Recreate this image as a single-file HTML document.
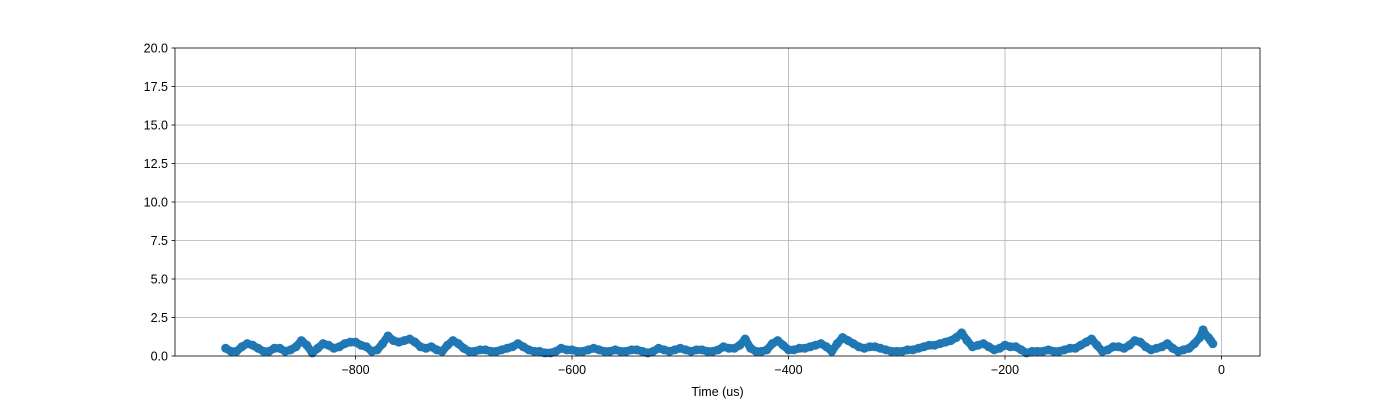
<!DOCTYPE html>
<html><head><meta charset="utf-8"><style>
body{margin:0;background:#fff;}
svg{display:block;font-family:"Liberation Sans","DejaVu Sans",sans-serif;}
</style></head><body>
<svg id="chart" width="1400" height="400" viewBox="0 0 1400 400">
<rect x="0" y="0" width="1400" height="400" fill="#fff"/>
<g id="grid"></g><g id="series"></g><g id="axes"></g>
</svg>
<script>
const times=[-920,-915,-910,-905,-900,-895,-890,-885,-880,-875,-870,-865,-860,-855,-850,-845,-840,-835,-830,-825,-820,-815,-810,-805,-800,-795,-790,-785,-780,-775,-770,-765,-760,-755,-750,-745,-740,-735,-730,-725,-720,-715,-710,-705,-700,-695,-690,-685,-680,-675,-670,-665,-660,-655,-650,-645,-640,-635,-630,-625,-620,-615,-610,-605,-600,-595,-590,-585,-580,-575,-570,-565,-560,-555,-550,-545,-540,-535,-530,-525,-520,-515,-510,-505,-500,-495,-490,-485,-480,-475,-470,-465,-460,-455,-450,-445,-440,-435,-430,-425,-420,-415,-410,-405,-400,-395,-390,-385,-380,-375,-370,-365,-360,-355,-350,-345,-340,-335,-330,-325,-320,-315,-310,-305,-300,-295,-290,-285,-280,-275,-270,-265,-260,-255,-250,-245,-240,-235,-230,-225,-220,-215,-210,-205,-200,-195,-190,-185,-180,-175,-170,-165,-160,-155,-150,-145,-140,-135,-130,-125,-120,-115,-110,-105,-100,-95,-90,-85,-80,-75,-70,-65,-60,-55,-50,-45,-40,-35,-30,-25,-20,-17,-15,-12,-10,-8];
const values=[0.5,0.3,0.3,0.6,0.8,0.7,0.5,0.3,0.3,0.5,0.5,0.3,0.4,0.6,1.0,0.7,0.2,0.5,0.8,0.7,0.5,0.6,0.8,0.9,0.9,0.7,0.6,0.3,0.4,0.8,1.3,1.0,0.9,1.0,1.1,0.9,0.6,0.5,0.6,0.4,0.3,0.7,1.0,0.8,0.5,0.3,0.3,0.4,0.4,0.3,0.3,0.4,0.5,0.6,0.8,0.6,0.4,0.3,0.3,0.2,0.2,0.3,0.5,0.4,0.4,0.3,0.3,0.4,0.5,0.4,0.3,0.3,0.4,0.3,0.3,0.4,0.4,0.3,0.2,0.3,0.5,0.4,0.3,0.4,0.5,0.4,0.3,0.4,0.4,0.3,0.3,0.4,0.6,0.5,0.5,0.7,1.1,0.5,0.3,0.3,0.4,0.8,1.0,0.7,0.4,0.4,0.5,0.5,0.6,0.7,0.8,0.6,0.3,0.8,1.2,1.0,0.8,0.6,0.5,0.6,0.6,0.5,0.4,0.3,0.3,0.3,0.4,0.4,0.5,0.6,0.7,0.7,0.8,0.9,1.0,1.2,1.5,1.0,0.6,0.7,0.8,0.6,0.4,0.5,0.7,0.6,0.6,0.4,0.2,0.3,0.3,0.3,0.4,0.3,0.3,0.4,0.5,0.5,0.7,0.9,1.1,0.7,0.3,0.4,0.6,0.6,0.5,0.7,1.0,0.9,0.6,0.4,0.5,0.6,0.8,0.5,0.3,0.4,0.5,0.8,1.2,1.7,1.4,1.2,1.0,0.8];
const xTicks=[-800,-600,-400,-200,0];
const xTickLabels=["\u2212800","\u2212600","\u2212400","\u2212200","0"];
const yTicks=[0,2.5,5,7.5,10,12.5,15,17.5,20];
const yTickLabels=["0.0","2.5","5.0","7.5","10.0","12.5","15.0","17.5","20.0"];
const L=175,R=1260,T=48,B=356;
const xMin=-966.8,xMax=35.6,yMin=0,yMax=20;
const sx=v=>L+(v-xMin)/(xMax-xMin)*(R-L);
const sy=v=>B-(v-yMin)/(yMax-yMin)*(B-T);
const NS="http://www.w3.org/2000/svg";
function mk(parent,tag,attrs){const e=document.createElementNS(NS,tag);for(const k in attrs)e.setAttribute(k,attrs[k]);document.getElementById(parent).appendChild(e);return e;}
xTicks.forEach((t,i)=>{
  const g=mk('grid','line',{x1:sx(t),x2:sx(t),y1:T,y2:B,stroke:'#b0b0b0','stroke-width':0.8});
  
  
  const tk=mk('axes','line',{x1:sx(t),x2:sx(t),y1:B,y2:B+3.5,stroke:'#000','stroke-width':0.8});
  
  
  const tx=mk('axes','text',{x:sx(t),y:B+18,'text-anchor':'middle','font-size':12.5,fill:'#000'});
  tx.textContent=xTickLabels[i];
  
  
});
yTicks.forEach((t,i)=>{
  if(t>0&&t<20){const g=mk('grid','line',{x1:L,x2:R,y1:sy(t),y2:sy(t),stroke:'#b0b0b0','stroke-width':0.8});
  
  }
  const tk=mk('axes','line',{x1:L-3.5,x2:L,y1:sy(t),y2:sy(t),stroke:'#000','stroke-width':0.8});
  
  
  const tx=mk('axes','text',{x:L-7,y:sy(t)+4.5,'text-anchor':'end','font-size':12.5,fill:'#000'});
  tx.textContent=yTickLabels[i];
  
  
});
const frame=mk('axes','rect',{x:L,y:T,width:R-L,height:B-T,fill:'none',stroke:'#000','stroke-width':0.8});


const xl=mk('axes','text',{x:(L+R)/2,y:396,'text-anchor':'middle','font-size':12.5,fill:'#000'});
xl.textContent='Time (us)';


const pts=times.map((t,i)=>sx(t)+','+sy(values[i])).join(' ');
const line=mk('series','polyline',{points:pts,fill:'none',stroke:'#1f77b4','stroke-width':8,'stroke-linejoin':'round','stroke-linecap':'round'});


times.forEach((t,i)=>{
  const c=mk('series','circle',{cx:sx(t),cy:sy(values[i]),r:4.5,fill:'#1f77b4'});
  
  
});
</script>
</body></html>
